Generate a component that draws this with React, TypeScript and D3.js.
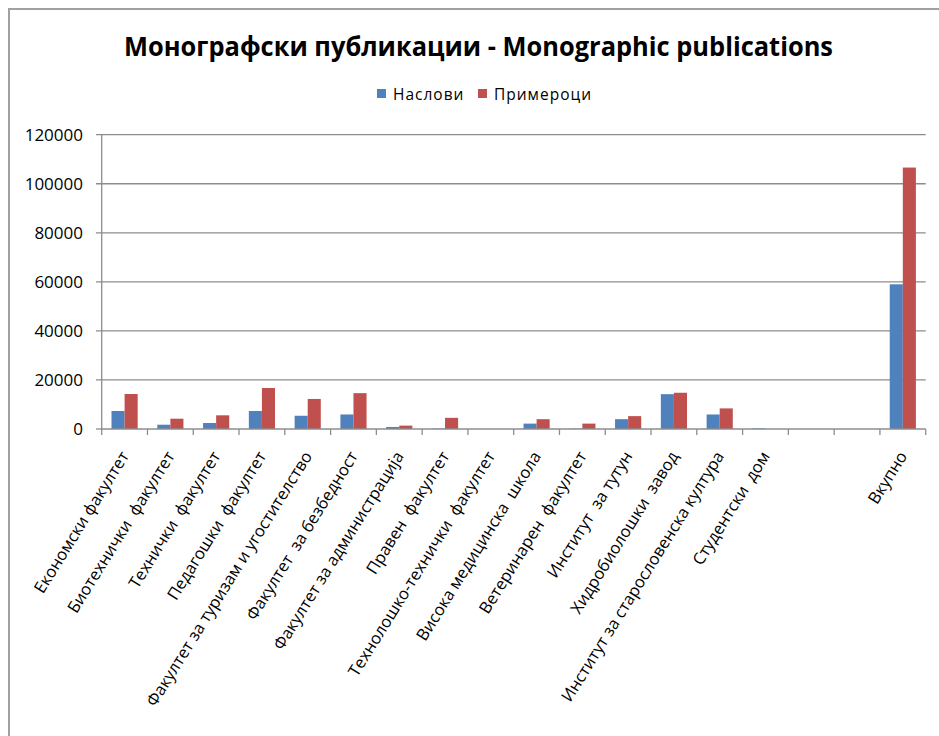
import { useEffect, useRef } from "react";
import * as d3 from "d3";

const categories = [
  "Економски факултет",
  "Биотехнички  факултет",
  "Технички  факултет",
  "Педагошки  факултет",
  "Факултет за туризам и угостителство",
  "Факултет  за безбедност",
  "Факултет за администрација",
  "Правен  факултет",
  "Технолошко-технички  факултет",
  "Висока медицинска  школа",
  "Ветеринарен  факултет",
  "Институт  за тутун",
  "Хидробиолошки  завод",
  "Институт за старословенска култура",
  "Студентски  дом",
  "",
  "",
  "Вкупно",
];

const seriesNames = ["Наслови", "Примероци"];
const naslovi = [7340, 1750, 2450, 7340, 5400, 5920, 830, 150, 0, 2200, 150, 4000, 14200, 5920, 250, 0, 0, 59000];
const primeroci = [14270, 4200, 5580, 16720, 12250, 14620, 1380, 4550, 0, 4000, 2200, 5250, 14780, 8400, 0, 0, 0, 106600];
const yTicks = [0, 20000, 40000, 60000, 80000, 100000, 120000];

const colors = ["#4F81BD", "#C0504D"];
const title = "Монографски публикации - Monographic publications";

export default function App() {
  const svgRef = useRef<SVGSVGElement>(null);

  useEffect(() => {
    if (!svgRef.current) return;
    const svg = d3.select(svgRef.current);
    svg.selectAll("*").remove();

    const font = "'Open Sans', sans-serif";

    // chart frame
    svg.append("rect")
      .attr("x", 9).attr("y", 9)
      .attr("width", 960).attr("height", 760)
      .attr("fill", "#fff")
      .attr("stroke", "#a0a0a0")
      .attr("stroke-width", 2);

    // title
    svg.append("text")
      .attr("x", 478.5).attr("y", 56)
      .attr("text-anchor", "middle")
      .attr("font-family", font)
      .attr("font-weight", "bold")
      .attr("font-size", 27)
      .attr("textLength", 709)
      .attr("lengthAdjust", "spacingAndGlyphs")
      .text(title);

    // legend
    const legendX = [377, 478];
    seriesNames.forEach((name, i) => {
      svg.append("rect")
        .attr("x", legendX[i]).attr("y", 89)
        .attr("width", 9).attr("height", 9)
        .attr("fill", colors[i]);
      svg.append("text")
        .attr("x", legendX[i] + 16).attr("y", 99.5)
        .attr("font-family", font)
        .attr("font-size", 15.5)
        .attr("letter-spacing", 1)
        .text(name);
    });

    const x = d3.scaleBand<number>()
      .domain(categories.map((_, i) => i))
      .range([101.7, 925.7]);
    const xs = d3.scaleBand<string>()
      .domain(seriesNames)
      .range([0, x.bandwidth()])
      .paddingOuter(0.75);
    const y = d3.scaleLinear().domain([0, 120000]).range([429, 134.7]);

    // gridlines and y labels
    yTicks.forEach((t) => {
      svg.append("line")
        .attr("x1", 96).attr("x2", t > 0 ? 925.7 : 101.7)
        .attr("y1", y(t)).attr("y2", y(t))
        .attr("stroke", "#8c8c8c").attr("stroke-width", 1.3);
      svg.append("text")
        .attr("x", 83).attr("y", y(t) + 6)
        .attr("text-anchor", "end")
        .attr("font-family", font)
        .attr("font-size", 17)
        .text(t);
    });

    // bars
    const values = [naslovi, primeroci];
    values.forEach((arr, s) => {
      svg.append("g").selectAll("rect")
        .data(arr)
        .join("rect")
        .attr("x", (_, i) => (x(i) ?? 0) + (xs(seriesNames[s]) ?? 0))
        .attr("y", (d) => y(d))
        .attr("width", xs.bandwidth())
        .attr("height", (d) => y(0) - y(d))
        .attr("fill", colors[s]);
    });

    // axes
    svg.append("line")
      .attr("x1", 101.7).attr("x2", 101.7)
      .attr("y1", 134.7).attr("y2", 429)
      .attr("stroke", "#8c8c8c").attr("stroke-width", 1.3);
    svg.append("line")
      .attr("x1", 101.7).attr("x2", 925.7)
      .attr("y1", 429).attr("y2", 429)
      .attr("stroke", "#8c8c8c").attr("stroke-width", 1.3);
    const edges = categories.map((_, i) => x(i) ?? 0).concat([925.7]);
    svg.append("g").selectAll("line")
      .data(edges)
      .join("line")
      .attr("x1", (d) => d).attr("x2", (d) => d)
      .attr("y1", 429).attr("y2", 435)
      .attr("stroke", "#8c8c8c").attr("stroke-width", 1.3);

    // category labels
    svg.append("g").selectAll("text")
      .data(categories)
      .join("text")
      .attr("transform", (_, i) => `translate(${(x(i) ?? 0) + x.bandwidth() / 2 + 5},456) rotate(-58)`)
      .attr("text-anchor", "end")
      .attr("font-family", font)
      .attr("font-size", 16.5)
      .style("white-space", "pre")
      .text((d) => d);
  }, []);

  return (
    <div style={{ position: "fixed", left: 0, top: 0 }}>
      <svg ref={svgRef} width={939} height={736} style={{ display: "block" }} />
    </div>
  );
}
